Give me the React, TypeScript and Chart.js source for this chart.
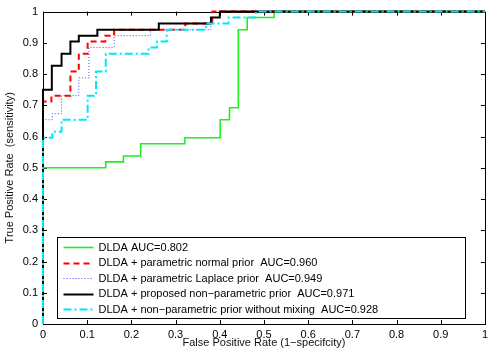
import React, { useEffect, useRef } from "react";
import { Chart, registerables } from "chart.js";

Chart.register(...registerables);

const xTickValues = [0, 0.1, 0.2, 0.3, 0.4, 0.5, 0.6, 0.7, 0.8, 0.9, 1];
const yTickValues = [0, 0.1, 0.2, 0.3, 0.4, 0.5, 0.6, 0.7, 0.8, 0.9, 1];

const seriesLabels = [
  "DLDA AUC=0.802",
  "DLDA + parametric normal prior  AUC=0.960",
  "DLDA + parametric Laplace prior  AUC=0.949",
  "DLDA + proposed non\u2212parametric prior  AUC=0.971",
  "DLDA + non\u2212parametric prior without mixing  AUC=0.928",
];

const greenFpr = [0, 0, 0.142, 0.182, 0.221, 0.321, 0.401, 0.422, 0.442, 0.462, 0.523, 1];
const greenTpr = [0, 0.5, 0.519, 0.538, 0.577, 0.596, 0.654, 0.692, 0.942, 0.981, 1, 1];

const redFpr = [0, 0, 0.019, 0.062, 0.081, 0.101, 0.141, 0.161, 0.322, 0.383, 1];
const redTpr = [0, 0.712, 0.731, 0.808, 0.865, 0.904, 0.923, 0.942, 0.962, 1, 1];

const blueFpr = [0, 0, 0.021, 0.042, 0.081, 0.104, 0.161, 0.243, 0.38, 0.4, 1];
const blueTpr = [0, 0.654, 0.673, 0.731, 0.788, 0.885, 0.923, 0.942, 0.981, 1, 1];

const blackFpr = [0, 0, 0.02, 0.042, 0.062, 0.081, 0.123, 0.262, 0.38, 0.4, 1];
const blackTpr = [0, 0.75, 0.827, 0.865, 0.904, 0.923, 0.942, 0.962, 0.981, 1, 1];

const cyanFpr = [0, 0, 0.021, 0.042, 0.101, 0.12, 0.142, 0.239, 0.258, 0.28, 0.369, 0.42, 0.482, 1];
const cyanTpr = [0, 0.596, 0.615, 0.654, 0.731, 0.808, 0.865, 0.885, 0.904, 0.942, 0.962, 0.981, 1, 1];

const styles = [
  { color: "rgb(30,240,30)", width: 1.6, dash: [] as number[] },
  { color: "rgb(255,0,0)", width: 2, dash: [6, 4] },
  { color: "rgb(70,70,255)", width: 1, dash: [1, 2] },
  { color: "rgb(0,0,0)", width: 2, dash: [] as number[] },
  { color: "rgb(0,230,255)", width: 2, dash: [8, 3, 2, 3] },
];

const FONT = '"Liberation Sans", Arial, Helvetica, sans-serif';

function toPoints(xs: number[], ys: number[]) {
  return xs.map((x, i) => ({ x, y: ys[i] }));
}

const fmt = (v: number) => String(Math.round(v * 10) / 10);

export default function App() {
  const ref = useRef<HTMLCanvasElement | null>(null);

  useEffect(() => {
    const canvas = ref.current;
    if (!canvas) return;
    const pairs = [
      [greenFpr, greenTpr],
      [redFpr, redTpr],
      [blueFpr, blueTpr],
      [blackFpr, blackTpr],
      [cyanFpr, cyanTpr],
    ];
    const datasets = pairs.map((p, i) => ({
      label: seriesLabels[i],
      data: toPoints(p[0], p[1]),
      showLine: true,
      stepped: true as const,
      borderColor: styles[i].color,
      backgroundColor: styles[i].color,
      borderWidth: styles[i].width,
      borderDash: styles[i].dash,
      pointRadius: 0,
      fill: false,
      clip: 4,
      order: 4 - i,
    }));

    const boxPlugin = {
      id: "matlabBox",
      beforeDatasetsDraw(chart: any) {
        const { ctx, chartArea: a, scales } = chart;
        ctx.save();
        ctx.strokeStyle = "#000";
        ctx.lineWidth = 1;
        ctx.setLineDash([]);
        ctx.beginPath();
        xTickValues.forEach((v) => {
          const px = Math.round(scales.x.getPixelForValue(v)) + 0.5;
          ctx.moveTo(px, a.bottom);
          ctx.lineTo(px, a.bottom - 4);
          ctx.moveTo(px, a.top);
          ctx.lineTo(px, a.top + 4);
        });
        yTickValues.forEach((v) => {
          const py = Math.round(scales.y.getPixelForValue(v)) + 0.5;
          ctx.moveTo(a.left, py);
          ctx.lineTo(a.left + 4, py);
          ctx.moveTo(a.right, py);
          ctx.lineTo(a.right - 4, py);
        });
        ctx.stroke();
        ctx.strokeRect(
          Math.round(a.left) + 0.5,
          Math.round(a.top) + 0.5,
          Math.round(a.right - a.left),
          Math.round(a.bottom - a.top)
        );
        ctx.restore();
      },
      afterDraw(chart: any) {
        const { ctx, chartArea: a } = chart;
        const left = Math.round(a.left + 14) + 0.5;
        const right = Math.round(a.right - 20) + 0.5;
        const top = Math.round(a.top + 225) + 0.5;
        const rowH = 15.5;
        const height = 81;
        ctx.save();
        ctx.fillStyle = "#fff";
        ctx.fillRect(left, top, right - left, height);
        ctx.strokeStyle = "#000";
        ctx.lineWidth = 1;
        ctx.setLineDash([]);
        ctx.strokeRect(left, top, right - left, height);
        ctx.font = "11px " + FONT;
        ctx.textBaseline = "middle";
        ctx.textAlign = "left";
        seriesLabels.forEach((lab, i) => {
          const cy = top + 9.5 + i * rowH;
          const st = styles[i];
          ctx.beginPath();
          ctx.strokeStyle = st.color;
          ctx.lineWidth = st.width;
          ctx.setLineDash(st.dash);
          ctx.moveTo(left + 6, Math.round(cy) + 0.5);
          ctx.lineTo(left + 36, Math.round(cy) + 0.5);
          ctx.stroke();
          ctx.setLineDash([]);
          ctx.fillStyle = "#000";
          ctx.fillText(lab, left + 41, cy + 0.5);
        });
        ctx.restore();
      },
    };

    const chart = new Chart(canvas, {
      type: "scatter",
      data: { datasets },
      options: {
        animation: false,
        responsive: false,
        maintainAspectRatio: false,
        layout: { padding: { top: 10, right: 2, left: 0, bottom: 0 } },
        plugins: { legend: { display: false }, tooltip: { enabled: false } },
        scales: {
          x: {
            type: "linear",
            min: 0,
            max: 1,
            afterBuildTicks: (s: any) => {
              s.ticks = xTickValues.map((v) => ({ value: v }));
            },
            afterFit: (s: any) => {
              s.height = 26;
            },
            grid: { display: false, drawTicks: false, tickLength: 0 },
            border: { display: false },
            ticks: {
              padding: 4,
              color: "#000",
              font: { family: FONT, size: 11 },
              maxRotation: 0,
              autoSkip: false,
              callback: (v: any) => fmt(Number(v)),
            },
            title: {
              display: true,
              text: "False Positive Rate (1\u2212specifcity)",
              color: "#111",
              font: { family: FONT, size: 11 },
              padding: { top: 0, bottom: 0 },
            },
          },
          y: {
            type: "linear",
            min: 0,
            max: 1,
            afterBuildTicks: (s: any) => {
              s.ticks = yTickValues.map((v) => ({ value: v }));
            },
            afterFit: (s: any) => {
              s.width = 43;
            },
            grid: { display: false, drawTicks: false, tickLength: 0 },
            border: { display: false },
            ticks: {
              padding: 5,
              color: "#000",
              font: { family: FONT, size: 11 },
              autoSkip: false,
              callback: (v: any) => fmt(Number(v)),
            },
            title: {
              display: true,
              text: "True Positive Rate  (sensitivity)",
              color: "#111",
              font: { family: FONT, size: 11 },
              padding: { top: 3, bottom: 3 },
            },
          },
        },
      },
      plugins: [boxPlugin],
    } as any);

    return () => chart.destroy();
  }, []);

  return (
    <div style={{ position: "fixed", left: 0, top: 0, width: 492, height: 350, background: "#fff" }}>
      <canvas ref={ref} width={492} height={350} style={{ display: "block", width: 492, height: 350 }} />
    </div>
  );
}
